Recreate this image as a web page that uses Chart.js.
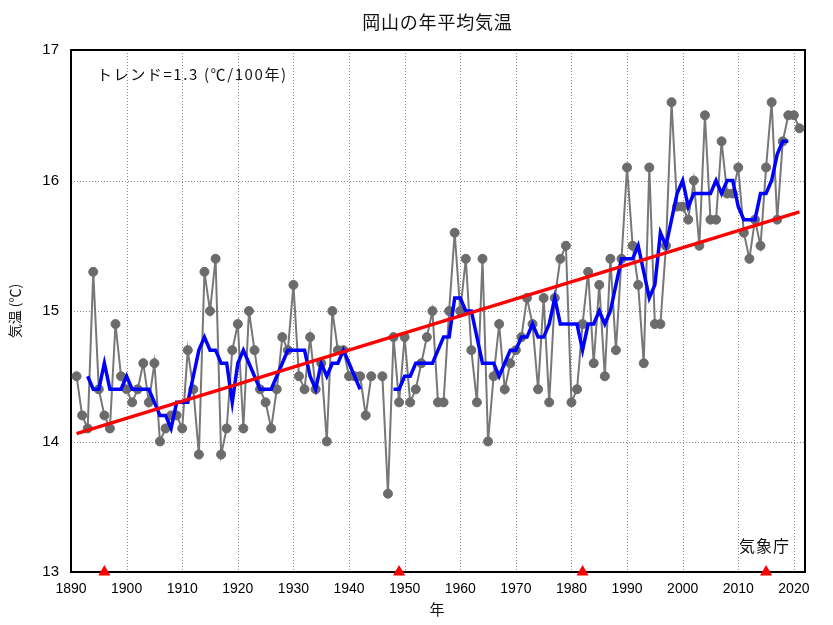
<!DOCTYPE html>
<html><head><meta charset="utf-8">
<script src="https://cdn.jsdelivr.net/npm/chart.js@4"></script>
<style>html,body{margin:0;padding:0;background:#fff}canvas{display:block}</style>
</head><body>
<canvas id="c" width="833" height="625"></canvas>
<script>
// ---- data ----
const firstYear = 1891;
const annualTemp = [
  14.5, 14.2, 14.1, 15.3, 14.4, 14.2, 14.1, 14.9, 14.5,          // 1891-1899
  14.4, 14.3, 14.4, 14.6, 14.3, 14.6, 14.0, 14.1, 14.2, 14.2,    // 1900-1909
  14.1, 14.7, 14.4, 13.9, 15.3, 15.0, 15.4, 13.9, 14.1, 14.7,    // 1910-1919
  14.9, 14.1, 15.0, 14.7, 14.4, 14.3, 14.1, 14.4, 14.8, 14.7,    // 1920-1929
  15.2, 14.5, 14.4, 14.8, 14.4, 14.6, 14.0, 15.0, 14.7, 14.7,    // 1930-1939
  14.5, 14.5, 14.5, 14.2, 14.5, null, 14.5, 13.6, 14.8, 14.3,    // 1940-1949
  14.8, 14.3, 14.4, 14.6, 14.8, 15.0, 14.3, 14.3, 15.0, 15.6,    // 1950-1959
  15.0, 15.4, 14.7, 14.3, 15.4, 14.0, 14.5, 14.9, 14.4, 14.6,    // 1960-1969
  14.7, 14.8, 15.1, 14.9, 14.4, 15.1, 14.3, 15.1, 15.4, 15.5,    // 1970-1979
  14.3, 14.4, 14.9, 15.3, 14.6, 15.2, 14.5, 15.4, 14.7, 15.4,    // 1980-1989
  16.1, 15.5, 15.2, 14.6, 16.1, 14.9, 14.9, 15.5, 16.6, 15.8,    // 1990-1999
  15.8, 15.7, 16.0, 15.5, 16.5, 15.7, 15.7, 16.3, 15.9, 15.9,    // 2000-2009
  16.1, 15.6, 15.4, 15.7, 15.5, 16.1, 16.6, 15.7, 16.3, 16.5,    // 2010-2019
  16.5, 16.4                                                     // 2020-2021
];
// 5-year running mean (blue line), as drawn in the reference
const movingAvgStart = 1893;
const movingAvg5 = [
  14.5, 14.4, 14.4, 14.6, 14.4, 14.4, 14.4,                      // 1893-1899
  14.5, 14.4, 14.4, 14.4, 14.4, 14.3, 14.2, 14.2, 14.1, 14.3,    // 1900-1909
  14.3, 14.3, 14.5, 14.7, 14.8, 14.7, 14.7, 14.6, 14.6, 14.3,    // 1910-1919
  14.6, 14.7, 14.6, 14.5, 14.4, 14.4, 14.4, 14.5, 14.6, 14.7,    // 1920-1929
  14.7, 14.7, 14.7, 14.5, 14.4, 14.6, 14.5, 14.6, 14.6, 14.7,    // 1930-1939
  14.6, 14.5, 14.4, null, null, null, null, null, 14.4, 14.4,    // 1940-1949
  14.5, 14.5, 14.6, 14.6, 14.6, 14.6, 14.7, 14.8, 14.8, 15.1,    // 1950-1959
  15.1, 15.0, 15.0, 14.8, 14.6, 14.6, 14.6, 14.5, 14.6, 14.7,    // 1960-1969
  14.7, 14.8, 14.8, 14.9, 14.8, 14.8, 14.9, 15.1, 14.9, 14.9,    // 1970-1979
  14.9, 14.9, 14.7, 14.9, 14.9, 15.0, 14.9, 15.0, 15.2, 15.4,    // 1980-1989
  15.4, 15.4, 15.5, 15.3, 15.1, 15.2, 15.6, 15.5, 15.7, 15.9,    // 1990-1999
  16.0, 15.8, 15.9, 15.9, 15.9, 15.9, 16.0, 15.9, 16.0, 16.0,    // 2000-2009
  15.8, 15.7, 15.7, 15.7, 15.9, 15.9, 16.0, 16.2, 16.3, 16.3     // 2010-2019
];
const trendYears = [1891, 2021];
const trendValues = [14.06, 15.76];
const relocationYears = [1896, 1949, 1982, 2015];
const xTickYears = [1890, 1900, 1910, 1920, 1930, 1940, 1950, 1960, 1970, 1980, 1990, 2000, 2010, 2020];
const yTickValues = [13, 14, 15, 16, 17];
const xMin = 1890, xMax = 2022, yMin = 13, yMax = 17;

const titleText = '岡山の年平均気温';
const trendLabel = 'トレンド=1.3 (℃/100年)';
const sourceLabel = '気象庁';
const xTitle = '年';
const yTitle = '気温 (℃)';

// ---- build datasets ----
const annualPts = annualTemp.map((v, i) => ({ x: firstYear + i, y: v }));
const avgPts = movingAvg5.map((v, i) => ({ x: movingAvgStart + i, y: v }));
const trendPts = trendYears.map((yr, i) => ({ x: yr, y: trendValues[i] }));
const relocPts = relocationYears.map(yr => ({ x: yr, y: yMin }));

const CJK = '"Noto Sans CJK JP", "Noto Sans", sans-serif';
const LAT = '"Liberation Sans", Arial, sans-serif';

function spacedText(ctx, text, x, y, spacing, align) {
  const chars = Array.from(text);
  const widths = chars.map(c => ctx.measureText(c).width);
  const total = widths.reduce((a, b) => a + b, 0) + spacing * (chars.length - 1);
  let cx = align === 'center' ? x - total / 2 : align === 'right' ? x - total : x;
  const prev = ctx.textAlign;
  ctx.textAlign = 'left';
  chars.forEach((c, i) => { ctx.fillText(c, cx, y); cx += widths[i] + spacing; });
  ctx.textAlign = prev;
}

const decor = {
  id: 'decor',
  beforeDatasetsDraw(chart) {
    const { ctx, chartArea: a, scales: { x, y } } = chart;
    ctx.save();
    ctx.strokeStyle = '#8a8a8a';
    ctx.lineWidth = 1;
    ctx.setLineDash([1, 2]);
    xTickYears.forEach(v => {
      const px = Math.round(x.getPixelForValue(v)) + 0.5;
      ctx.beginPath(); ctx.moveTo(px, a.top); ctx.lineTo(px, a.bottom); ctx.stroke();
    });
    yTickValues.forEach(v => {
      const py = Math.round(y.getPixelForValue(v)) + 0.5;
      ctx.beginPath(); ctx.moveTo(a.left, py); ctx.lineTo(a.right, py); ctx.stroke();
    });
    ctx.setLineDash([]);
    ctx.strokeStyle = '#000';
    ctx.lineWidth = 2;
    ctx.strokeRect(a.left, a.top, a.right - a.left, a.bottom - a.top);
    ctx.restore();
  },
  afterDraw(chart) {
    const { ctx } = chart;
    ctx.save();
    ctx.fillStyle = '#111';
    ctx.textBaseline = 'middle';
    ctx.font = '18px ' + CJK;
    spacedText(ctx, titleText, 437, 22, 0.8, 'center');
    ctx.font = '15px ' + CJK;
    spacedText(ctx, trendLabel, 97, 74, 1.6, 'left');
    ctx.font = '16px ' + CJK;
    spacedText(ctx, sourceLabel, 789, 546, 1, 'right');
    ctx.font = '15px ' + CJK;
    ctx.textAlign = 'center';
    ctx.fillText(xTitle, 437, 609);
    ctx.translate(15, 311);
    ctx.rotate(-Math.PI / 2);
    ctx.font = '14px ' + CJK;
    ctx.fillText(yTitle, 0, 0);
    ctx.restore();
  }
};

new Chart(document.getElementById('c'), {
  type: 'line',
  data: {
    datasets: [
      {
        type: 'scatter', data: relocPts, clip: false,
        pointStyle: 'triangle', pointRadius: 7, pointHoverRadius: 7,
        backgroundColor: '#ff0000', borderColor: '#ff0000', borderWidth: 0, showLine: false
      },
      {
        data: trendPts, borderColor: '#ff0000', borderWidth: 3.5,
        pointRadius: 0, fill: false, tension: 0
      },
      {
        data: avgPts, borderColor: '#0000ff', borderWidth: 3.5,
        pointRadius: 0, fill: false, tension: 0, spanGaps: false
      },
      {
        data: annualPts, borderColor: '#777777', borderWidth: 2,
        pointRadius: 4.5, pointBackgroundColor: '#6b6b6b', pointBorderColor: '#6b6b6b',
        pointBorderWidth: 1, fill: false, tension: 0, spanGaps: false
      }
    ]
  },
  options: {
    responsive: false,
    animation: false,
    devicePixelRatio: 1,
    layout: { padding: { left: 0, right: 28, top: 50, bottom: 0 } },
    plugins: { legend: { display: false }, tooltip: { enabled: false }, title: { display: false } },
    scales: {
      x: {
        type: 'linear', min: xMin, max: xMax,
        afterFit(s) { s.height = 53; },
        afterBuildTicks(s) { s.ticks = xTickYears.map(v => ({ value: v })); },
        ticks: { font: { family: LAT, size: 14 }, color: '#000', padding: 9, maxRotation: 0, autoSkip: false,
                 callback: v => String(v) },
        grid: { display: false, drawTicks: false },
        border: { display: false }
      },
      y: {
        type: 'linear', min: yMin, max: yMax,
        afterFit(s) { s.width = 71; },
        afterBuildTicks(s) { s.ticks = yTickValues.map(v => ({ value: v })); },
        ticks: { font: { family: LAT, size: 15 }, color: '#000', padding: 12, callback: v => String(v) },
        grid: { display: false, drawTicks: false },
        border: { display: false }
      }
    }
  },
  plugins: [decor]
});
</script>
</body></html>
